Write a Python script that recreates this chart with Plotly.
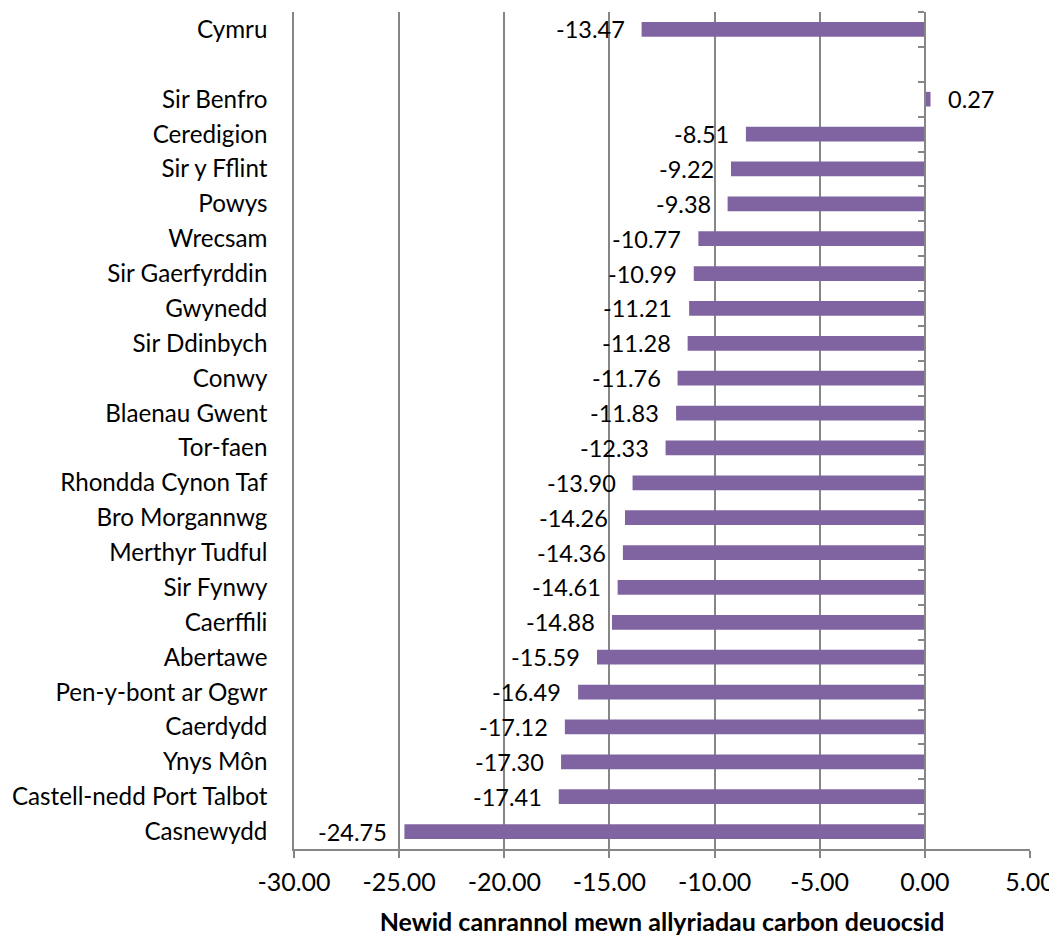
import plotly.graph_objects as go

categories = ["Cymru", "", "Sir Benfro", "Ceredigion", "Sir y Fflint", "Powys", "Wrecsam",
              "Sir Gaerfyrddin", "Gwynedd", "Sir Ddinbych", "Conwy", "Blaenau Gwent",
              "Tor-faen", "Rhondda Cynon Taf", "Bro Morgannwg", "Merthyr Tudful",
              "Sir Fynwy", "Caerffili", "Abertawe", "Pen-y-bont ar Ogwr", "Caerdydd",
              "Ynys Môn", "Castell-nedd Port Talbot", "Casnewydd"]
values = [-13.47, None, 0.27, -8.51, -9.22, -9.38, -10.77, -10.99, -11.21, -11.28, -11.76,
          -11.83, -12.33, -13.90, -14.26, -14.36, -14.61, -14.88, -15.59, -16.49, -17.12,
          -17.30, -17.41, -24.75]
tick_vals = [-30, -25, -20, -15, -10, -5, 0, 5]
x_title = "Newid canrannol mewn allyriadau carbon deuocsid"

# unique ids so the blank row keeps its own slot
ids = [c if c else "  " for c in categories]

FONT = "Lato, Calibri, sans-serif"
BAR = "#8064A2"
GRID = "#868686"

fig = go.Figure()
fig.add_trace(go.Bar(
    x=values, y=ids, orientation="h", marker=dict(color=BAR, line=dict(width=0)),
    hoverinfo="skip", showlegend=False,
))
# invisible helper trace for the category axis drawn at zero
fig.add_trace(go.Scatter(
    x=[0 for _ in ids], y=ids, mode="markers", marker=dict(opacity=0),
    yaxis="y2", hoverinfo="skip", showlegend=False,
))

annotations = []
for cid, v in zip(ids, values):
    if v is None:
        continue
    annotations.append(dict(
        x=v, y=cid, xref="x", yref="y", text=f"{v:.2f}", showarrow=False,
        xanchor="right" if v < 0 else "left", xshift=-15 if v < 0 else 15,
        font=dict(family=FONT, size=23.5, color="#000000"),
    ))

xmin, xmax = -30, 5
n = len(ids)
yrange = [n - 0.5, -0.5]
fig.update_layout(
    width=1049, height=929,
    margin=dict(l=286, r=27, t=4, b=88),
    paper_bgcolor="white", plot_bgcolor="white",
    bargap=0.58,
    font=dict(family=FONT, size=24, color="#000000"),
    annotations=annotations,
    xaxis=dict(
        range=[xmin, xmax], tickvals=tick_vals, automargin=False,
        ticktext=[f"{t:.2f}" for t in tick_vals],
        showgrid=True, gridcolor=GRID, gridwidth=1.5,
        zeroline=False, showline=True, linecolor=GRID, linewidth=1.5,
        ticks="outside", ticklen=7, tickcolor=GRID, tickwidth=1.5,
        ticklabelstandoff=3,
        tickfont=dict(family=FONT, size=25),
        title=dict(text="<b>" + x_title + "</b>", font=dict(family=FONT, size=25), standoff=19),
    ),
    yaxis=dict(
        type="category", categoryorder="array", categoryarray=ids,
        range=yrange, automargin=False, tickvals=ids, ticktext=categories,
        showgrid=False, zeroline=False, showline=True, linecolor=GRID, linewidth=1.5,
        ticks="outside", ticklen=20, tickcolor="rgba(0,0,0,0)",
        tickfont=dict(family=FONT, size=24.2),
    ),
    yaxis2=dict(
        type="category", categoryorder="array", categoryarray=ids,
        range=yrange, automargin=False, overlaying="y", anchor="free",
        position=(0 - xmin) / (xmax - xmin), side="left",
        showticklabels=False, showgrid=False, zeroline=False,
        showline=True, linecolor=GRID, linewidth=1.5,
        ticks="outside", ticklen=6, tickcolor=GRID, tickwidth=1.5,
        tickson="boundaries",
    ),
)

fig.write_html("out.html")
